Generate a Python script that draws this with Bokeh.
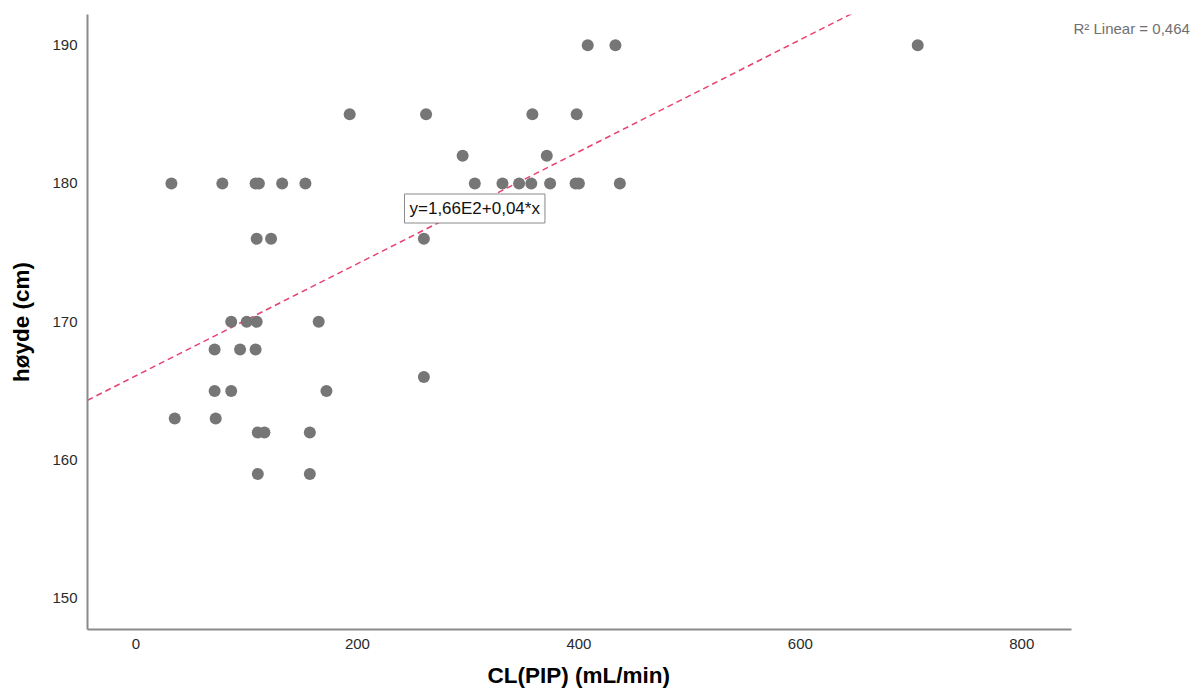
from bokeh.plotting import figure
from bokeh.models import Range1d, Label, FixedTicker, Title
from bokeh.embed import file_html
from bokeh.resources import INLINE
import numpy as np

# Data: CL(PIP) (mL/min) vs høyde (cm)
cl_pip = [408, 433, 706,
          193, 262, 358, 398,
          295, 371,
          32, 78, 108, 111, 132, 153, 306, 331, 346, 357, 374, 397, 400, 437,
          109, 122, 260,
          86, 100, 109, 165,
          71, 94, 108,
          260,
          71, 86, 172,
          35, 72,
          110, 116, 157,
          110, 157]
hoyde = [190, 190, 190,
         185, 185, 185, 185,
         182, 182,
         180, 180, 180, 180, 180, 180, 180, 180, 180, 180, 180, 180, 180, 180,
         176, 176, 176,
         170, 170, 170, 170,
         168, 168, 168,
         166,
         165, 165, 165,
         163, 163,
         162, 162, 162,
         159, 159]

fit_intercept = 166.1
fit_slope = 0.0405
equation_text = "y=1,66E2+0,04*x"
r2_text = "R\u00b2 Linear = 0,464"
x_ticks = [0, 200, 400, 600, 800]
y_ticks = [150, 160, 170, 180, 190]
x_title = "CL(PIP) (mL/min)"
y_title = "høyde (cm)"

X0, X1 = -43.8, 960.5      # full frame extent
X_AXIS_END = 844.9         # where the drawn x axis line stops
Y0, Y1 = 147.75, 192.22

FONT = "Liberation Sans"

p = figure(width=1199, height=700, output_backend="svg", toolbar_location=None,
           x_range=Range1d(X0, X1), y_range=Range1d(Y0, Y1),
           min_border_left=87, min_border_right=0, min_border_top=14,
           min_border_bottom=71)
p.outline_line_color = None
p.grid.visible = False
p.background_fill_color = "white"
p.border_fill_color = "white"

for ax in (p.xaxis[0], p.yaxis[0]):
    ax.axis_line_color = "#8a8a8a"
    ax.axis_line_width = 2
    ax.major_tick_line_color = None
    ax.minor_tick_line_color = None
    ax.major_tick_out = 0
    ax.major_tick_in = 0
    ax.minor_tick_out = 0
    ax.major_label_text_font = FONT
    ax.major_label_text_font_size = "15px"
    ax.major_label_text_color = "#2a2a2a"
    ax.axis_label_text_font = FONT
    ax.axis_label_text_font_size = "22.5px"
    ax.axis_label_text_font_style = "bold"
    ax.axis_label_text_color = "#000000"

p.xaxis.ticker = FixedTicker(ticks=x_ticks)
p.yaxis.ticker = FixedTicker(ticks=y_ticks)
p.xaxis.bounds = (X0, X_AXIS_END)
p.yaxis.axis_label = y_title
p.xaxis.major_label_standoff = 9
p.yaxis.major_label_standoff = 10
p.yaxis.axis_label_standoff = 15

# x-axis title, centred under the drawn part of the axis
xt = Title(text=x_title, align="left", offset=400, standoff=19,
           vertical_align="bottom",
           text_font=FONT, text_font_size="22.5px", text_font_style="bold",
           text_color="#000000")
p.add_layout(xt, "below")

# fit line
lx = np.array([X0, X_AXIS_END])
ly = fit_intercept + fit_slope * lx
p.line(lx, ly, line_color="#e8416e", line_width=1.5, line_dash="6 4")

p.scatter(cl_pip, hoyde, size=12, fill_color="#767676", line_color=None)

eq = Label(x=317, y=421, x_units="screen", y_units="screen", text=equation_text,
           text_font=FONT, text_font_size="17px", text_color="#111111",
           text_align="left", text_baseline="middle",
           background_fill_color="white", border_line_color="#8a8a8a",
           border_line_width=1, padding=5)
p.add_layout(eq)

r2 = Label(x=986, y=601, x_units="screen", y_units="screen", text=r2_text,
           text_font=FONT, text_font_size="15px", text_color="#707070",
           text_align="left", text_baseline="middle")
p.add_layout(r2)

open("out.html", "w").write(file_html(p, INLINE))
